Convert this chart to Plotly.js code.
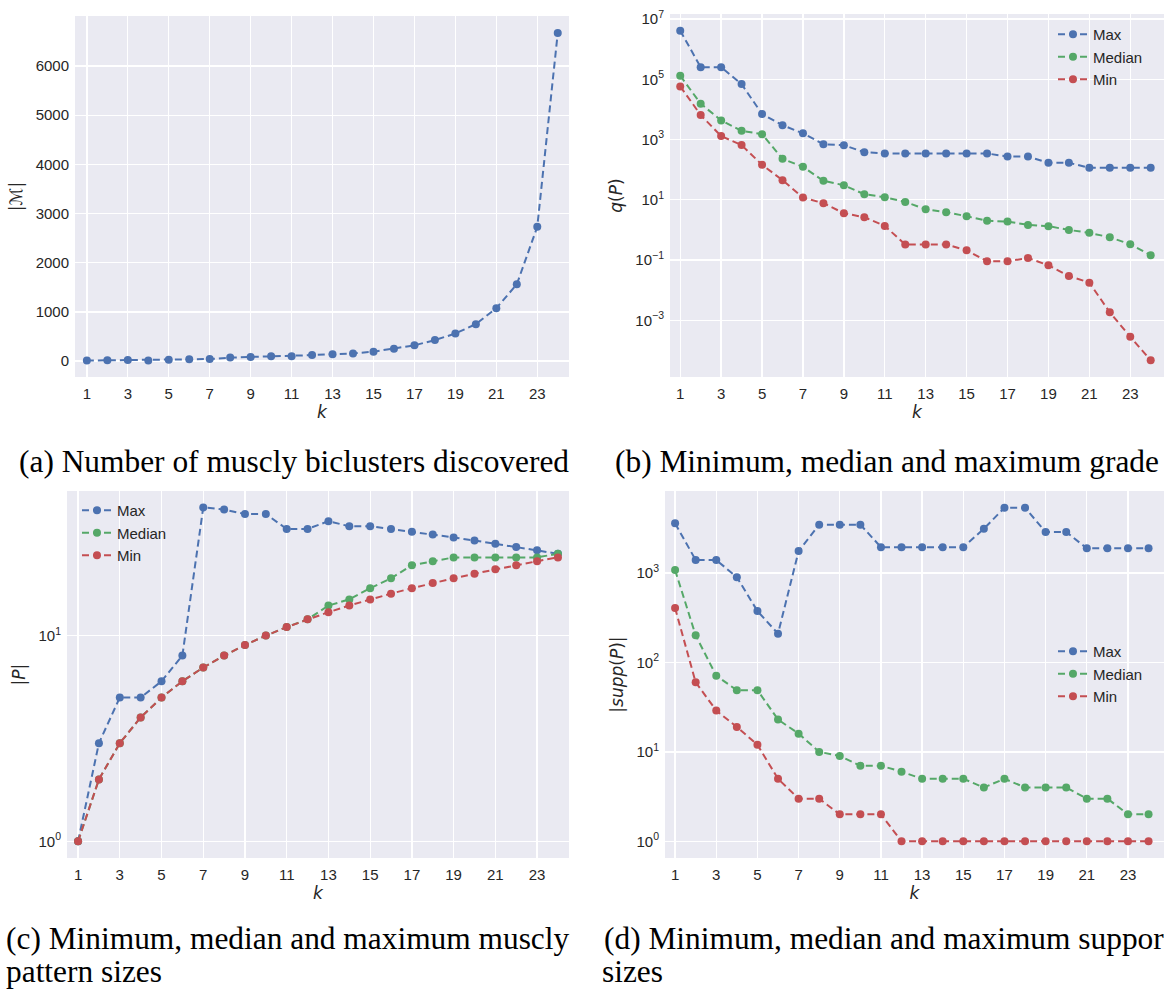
<!DOCTYPE html>
<html>
<head>
<meta charset="utf-8">
<script src="https://cdn.plot.ly/plotly-3.0.1.min.js"></script>
<style>
html,body{margin:0;padding:0;background:#fff;overflow:hidden;}
#chart{width:1164px;height:990px;}
</style>
</head>
<body>
<div id="chart"></div>
<script>
// ---------- data ----------
const k = [1,2,3,4,5,6,7,8,9,10,11,12,13,14,15,16,17,18,19,20,21,22,23,24];
const xTickVals = [1,3,5,7,9,11,13,15,17,19,21,23];

// (a) number of muscly biclusters |M|
const musclyCount = [10,15,20,10,25,35,40,70,80,95,95,120,140,155,190,250,320,425,560,750,1075,1560,2730,6670];

// (b) grade q(P)
const gradeMax = [4.1e6,2.5e5,2.5e5,6.9e4,7.0e3,3.0e3,1.6e3,700,650,380,345,345,345,345,345,345,273,273,169,169,115,115,115,115];
const gradeMedian = [1.31e5,1.54e4,4.3e3,1.95e3,1.5e3,229,124,42.6,30.5,15.3,12.2,8.5,4.87,3.87,2.85,2.0,1.9,1.47,1.33,1.0,0.8,0.57,0.335,0.144];
const gradeMin = [5.8e4,6.5e3,1.3e3,652,145,44.8,11.9,7.7,3.6,2.64,1.36,0.327,0.327,0.327,0.212,0.091,0.091,0.118,0.067,0.0297,0.0178,0.00185,2.86e-4,4.7e-5];
const gradeTickVals = [1e7,1e5,1e3,10,0.1,1e-3];
const gradeTickText = ['10<sup>7</sup>','10<sup>5</sup>','10<sup>3</sup>','10<sup>1</sup>','10<sup>−1</sup>','10<sup>−3</sup>'];

// (c) pattern sizes |P|
const sizeMax = [1,3,5,5,6,8,42,41,39,39,33,33,36,34,34,33,32,31,30,29,28,27,26,25];
const sizeMedian = [1,2,3,4,5,6,7,8,9,10,11,12,14,15,17,19,22,23,24,24,24,24,24,25];
const sizeMin = [1,2,3,4,5,6,7,8,9,10,11,12,13,14,15,16,17,18,19,20,21,22,23,24];
const sizeTickVals = [1,10];
const sizeTickText = ['10<sup>0</sup>','10<sup>1</sup>'];

// (d) support sizes |supp(P)|
const suppMax = [3600,1400,1400,900,376,210,1760,3480,3480,3480,1950,1950,1950,1950,1950,3130,5380,5380,2880,2880,1890,1890,1890,1890];
const suppMedian = [1080,201,71,49,49,23,16,10,9,7,7,6,5,5,5,4,5,4,4,4,3,3,2,2];
const suppMin = [406,60,29,19,12,5,3,3,2,2,2,1,1,1,1,1,1,1,1,1,1,1,1,1];
const suppTickVals = [1,10,100,1000];
const suppTickText = ['10<sup>0</sup>','10<sup>1</sup>','10<sup>2</sup>','10<sup>3</sup>'];

const seriesNames = ['Max','Median','Min'];
const captions = [
  '(a) Number of muscly biclusters discovered',
  '(b) Minimum, median and maximum grade',
  '(c) Minimum, median and maximum muscly',
  'pattern sizes',
  '(d) Minimum, median and maximum support',
  'sizes'
];

// ---------- style ----------
const W = 1164, H = 990;
const colors = {Max:'#4C72B0', Median:'#55A868', Min:'#C44E52'};
const BG = '#EAEAF2';
const TXT = '#262626';
const tickFont = {family:'Liberation Sans, Arial, sans-serif', size:15, color:TXT};
const titleFont = {family:'DejaVu Sans, sans-serif', size:17, color:TXT};
const DASH = '7px,4px';

function px(x){return x/W;}
function py(y){return 1 - y/H;}

function tr(y, name, xa, ya, legend, show){
  return {
    x:k, y:y, name:name, type:'scatter', mode:'lines+markers',
    xaxis:xa, yaxis:ya, legend:legend, showlegend:show,
    line:{color:colors[name], width:2, dash:DASH},
    marker:{color:colors[name], size:8}
  };
}

const data = [
  tr(musclyCount,'Max','x','y','legend',false),
  tr(gradeMax,seriesNames[0],'x2','y2','legend',true),
  tr(gradeMedian,seriesNames[1],'x2','y2','legend',true),
  tr(gradeMin,seriesNames[2],'x2','y2','legend',true),
  tr(sizeMax,seriesNames[0],'x3','y3','legend2',true),
  tr(sizeMedian,seriesNames[1],'x3','y3','legend2',true),
  tr(sizeMin,seriesNames[2],'x3','y3','legend2',true),
  tr(suppMax,seriesNames[0],'x4','y4','legend3',true),
  tr(suppMedian,seriesNames[1],'x4','y4','legend3',true),
  tr(suppMin,seriesNames[2],'x4','y4','legend3',true)
];

function xax(d0,d1,r0,r1,anchor){
  return {
    domain:[px(d0),px(d1)], range:[r0,r1], anchor:anchor,
    tickmode:'array', tickvals:xTickVals, ticks:'', showline:false, zeroline:false,
    showgrid:true, gridcolor:'#ffffff', gridwidth:1.3,
    tickfont:tickFont, ticklabelstandoff:6,
    title:{text:'<i>k</i>', font:titleFont, standoff:0}
  };
}
function yax(top,bottom,extra,anchor){
  return Object.assign({
    domain:[py(bottom),py(top)], anchor:anchor,
    ticks:'', showline:false, zeroline:false,
    showgrid:true, gridcolor:'#ffffff', gridwidth:1.3,
    tickfont:tickFont, ticklabelstandoff:5
  }, extra);
}

const legendBase = {
  bgcolor:'rgba(0,0,0,0)', borderwidth:0, font:tickFont,
  xanchor:'left', yanchor:'top', itemclick:false, itemdoubleclick:false
};

const capFont = {family:'Liberation Serif, Times New Roman, serif', size:31.4, color:'#000000'};
function cap(text, x, y){
  return {text:text, xref:'paper', yref:'paper', x:px(x), y:py(y),
    xanchor:'left', yanchor:'middle', showarrow:false, font:capFont, align:'left'};
}

const layout = {
  width:W, height:H, margin:{l:0,r:0,t:0,b:0},
  paper_bgcolor:'#ffffff', plot_bgcolor:BG,
  showlegend:true, hovermode:false,
  xaxis: xax(75,569,0.42,24.55,'y'),
  yaxis: yax(16,377,{range:[-325,7017], tickmode:'array', tickvals:[0,1000,2000,3000,4000,5000,6000],
    title:{text:'|ℳ|', font:titleFont, standoff:8}}, 'x'),
  xaxis2: xax(670,1164,0.5,24.65,'y2'),
  yaxis2: yax(14,377,{type:'log', range:[-4.88,7.165], tickmode:'array', tickvals:gradeTickVals, ticktext:gradeTickText,
    title:{text:'<i>q</i>(<i>P</i>)', font:titleFont, standoff:8}}, 'x2'),
  xaxis3: xax(67,569,0.47,24.53,'y3'),
  yaxis3: yax(491,858,{type:'log', range:[-0.081,1.703], tickmode:'array', tickvals:sizeTickVals, ticktext:sizeTickText,
    title:{text:'|<i>P</i>|', font:titleFont, standoff:8}}, 'x3'),
  xaxis4: xax(665,1164,0.51,24.75,'y4'),
  yaxis4: yax(491,858,{type:'log', range:[-0.187,3.918], tickmode:'array', tickvals:suppTickVals, ticktext:suppTickText,
    title:{text:'|<i>supp</i>(<i>P</i>)|', font:titleFont, standoff:8}}, 'x4'),
  legend: Object.assign({}, legendBase, {x:px(1053), y:py(18)}),
  legend2: Object.assign({}, legendBase, {x:px(77), y:py(494)}),
  legend3: Object.assign({}, legendBase, {x:px(1053), y:py(635)}),
  annotations:[
    cap(captions[0],17,461),
    cap(captions[1],613,461),
    cap(captions[2],4,938),
    cap(captions[3],4,971),
    cap(captions[4],602,938),
    cap(captions[5],600,971)
  ]
};

Plotly.newPlot('chart', data, layout, {staticPlot:true, displayModeBar:false});
</script>
</body>
</html>
